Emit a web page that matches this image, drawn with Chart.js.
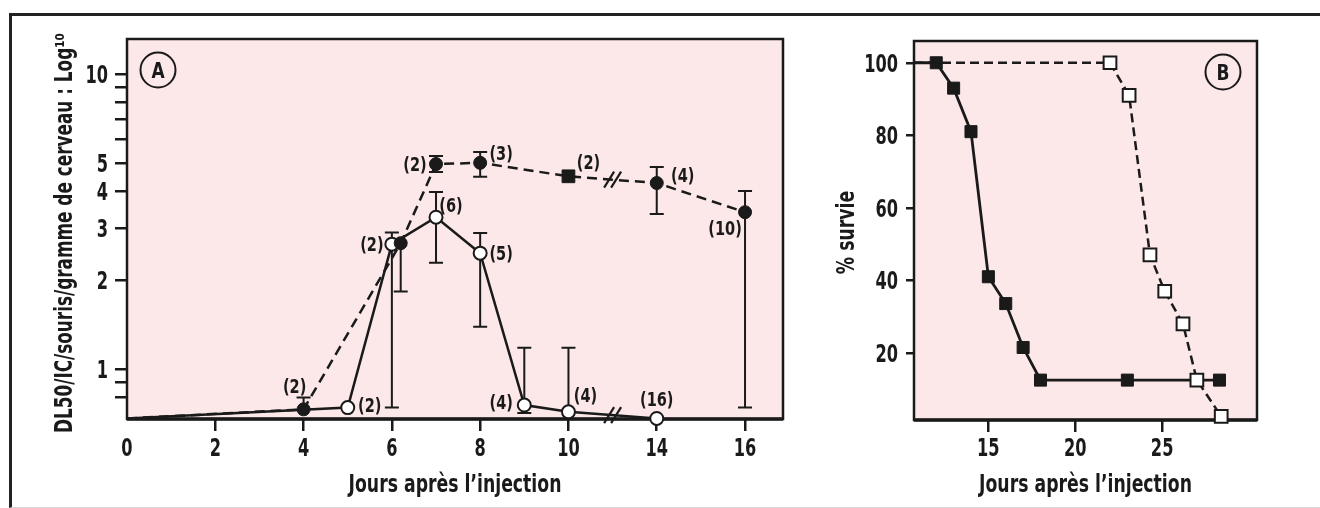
<!DOCTYPE html>
<html lang="fr">
<head>
<meta charset="UTF-8">
<script src="https://cdn.jsdelivr.net/npm/chart.js"></script>
<title>DL50 et survie</title>
<style>
  html, body { margin: 0; padding: 0; background: #fff; }
  #page { position: relative; width: 1320px; height: 508px; overflow: hidden; }
  #frame { position: absolute; left: 9px; top: 13px; width: 1330px; height: 491px;
           border-top: 3px solid #222; border-left: 3px solid #222; border-bottom: 1px solid #d8d8d8; }
  canvas { position: absolute; top: 0; }
  #chartA { left: 0; }
  #chartB { left: 800px; }
</style>
</head>
<body>
<div id="page">
  <div id="frame"></div>
  <canvas id="chartA" width="800" height="508"></canvas>
  <canvas id="chartB" width="520" height="508"></canvas>
</div>
<script>
// --- Panneau A (axe des jours coupé entre 10 et 14) ---
const daysA = [0, 2, 4, 6, 8, 10, 14, 16];
const yTicksA = [0.8, 0.9, 1, 2, 3, 4, 5, 6, 7, 8, 9, 10];
const yLabelsA = [1, 2, 3, 4, 5, 10];

// courbe en tirets, cercles pleins
const dashDays   = [0, 4, 6.2, 7, 8, 10, 14, 16];
const dashValues = [0.68, 0.73, 2.67, 4.95, 5.0, 4.5, 4.27, 3.4];
const dashLow    = [null, null, 1.83, 4.65, 4.48, null, 3.35, 0.74];
const dashHigh   = [null, 0.80, null, 5.27, 5.44, null, 4.84, 4.01];
const dashN      = ['', '(2)', '', '(2)', '(3)', '(2)', '(4)', '(10)'];

// courbe pleine, cercles vides
const solidDays   = [0, 5, 6, 7, 8, 9, 10, 14];
const solidValues = [0.68, 0.74, 2.65, 3.27, 2.47, 0.755, 0.716, 0.68];
const solidLow    = [null, null, 0.74, 2.29, 1.39, 0.71, null, null];
const solidHigh   = [null, null, 2.9, 3.98, 2.89, 1.18, 1.18, null];
const solidN      = ['', '(2)', '(2)', '(6)', '(5)', '(4)', '(4)', '(16)'];

// --- Panneau B : % survie ---
const xTicksB = [15, 20, 25];
const yTicksB = [20, 40, 60, 80, 100];
const filledDays   = [10.72, 12, 13, 14, 15, 16, 17, 18, 23, 28.3];
const filledSurvie = [100, 100, 93, 81, 41, 33.6, 21.5, 12.5, 12.5, 12.5];
const openDays     = [10.72, 22, 23.1, 24.3, 25.15, 26.2, 27, 28.4];
const openSurvie   = [100, 100, 91, 47, 37, 28, 12.5, 2.5];

// placement des effectifs (décalages en pixels)
const dashLabelOffset  = [null, [-9, -23], null, [-21, 0], [21, -10], [20, -14], [26, -8], [-20, 16]];
const solidLabelOffset = [null, [22, -3], [-20, 0], [15, -12], [21, 0], [-23, -3], [17, -17], [0, -19]];

const INK = '#1a1a1a';
const PINK = '#fce8e8';
const FONT = "'DejaVu Sans Condensed', 'DejaVu Sans', sans-serif";

Chart.defaults.font.family = FONT;
Chart.defaults.font.size = 24;
Chart.defaults.font.weight = 'bold';
Chart.defaults.color = INK;

function pos(d) { return d <= 10 ? d : d - 2; }   // axe coupé

// réglages de texte par panneau (hors options Chart.js)
const panelCfg = {
  chartA: {
    letter: 'A', corner: 'left',
    xLabel: (v, i) => String(daysA[i]),
    yLabel: v => yLabelsA.includes(v) ? String(v) : '',
    yLabelRight: 108,
    xTitle: 'Jours après l’injection',
    yTitle: 'DL50/IC/souris/gramme de cerveau : Log¹⁰',
    yTitleX: 72, yTitleLen: 400, yTitleShift: 4
  },
  chartB: {
    letter: 'B', corner: 'right',
    xLabel: v => String(v),
    yLabel: v => String(v),
    yLabelRight: 98,
    xTitle: 'Jours après l’injection',
    yTitle: '% survie',
    yTitleX: 54, yTitleLen: 0, yTitleShift: 2
  }
};

// texte étroit (police condensée resserrée horizontalement)
function txt(ctx, s, x, y, px, sx, align, rot) {
  ctx.save();
  ctx.translate(x, y);
  if (rot) ctx.rotate(rot);
  ctx.scale(sx, 1);
  ctx.font = 'bold ' + px + 'px ' + FONT;
  ctx.textAlign = align || 'center';
  ctx.textBaseline = 'alphabetic';
  ctx.fillStyle = INK;
  ctx.fillText(s, 0, 0);
  ctx.restore();
}

const panel = {
  id: 'panel',
  beforeDraw(chart) {
    const { ctx, chartArea: a } = chart;
    ctx.save();
    ctx.fillStyle = PINK;
    ctx.fillRect(a.left, a.top, a.right - a.left, a.bottom - a.top);
    ctx.restore();
  },
  beforeDatasetsDraw(chart) {
    const { ctx, chartArea: a } = chart;
    ctx.save();
    ctx.strokeStyle = INK;
    ctx.lineWidth = 2.5;
    ctx.strokeRect(a.left, a.top, a.right - a.left, a.bottom - a.top);
    ctx.lineWidth = 3.5;
    ctx.beginPath();
    ctx.moveTo(a.left, a.bottom);
    ctx.lineTo(a.right, a.bottom);
    ctx.stroke();

    // barres d'erreur
    const y = chart.scales.y;
    ctx.lineWidth = 2;
    chart.data.datasets.forEach((ds, i) => {
      if (!ds.errLow) return;
      chart.getDatasetMeta(i).data.forEach((pt, j) => {
        const lo = ds.errLow[j], hi = ds.errHigh[j];
        if (lo == null && hi == null) return;
        const yl = y.getPixelForValue(lo == null ? ds.data[j].y : lo);
        const yh = y.getPixelForValue(hi == null ? ds.data[j].y : hi);
        ctx.beginPath();
        ctx.moveTo(pt.x, yl);
        ctx.lineTo(pt.x, yh);
        if (lo != null) { ctx.moveTo(pt.x - 7, yl); ctx.lineTo(pt.x + 7, yl); }
        if (hi != null) { ctx.moveTo(pt.x - 7, yh); ctx.lineTo(pt.x + 7, yh); }
        ctx.stroke();
      });
    });
    ctx.restore();
  },
  afterDatasetsDraw(chart) {
    const { ctx } = chart;
    chart.data.datasets.forEach((ds, i) => {
      const pts = chart.getDatasetMeta(i).data;
      // marques de coupure //
      if (ds.breakAt != null) {
        const p0 = pts[ds.breakAt], p1 = pts[ds.breakAt + 1];
        const cx = (p0.x + p1.x) / 2, cy = (p0.y + p1.y) / 2;
        ctx.save();
        ctx.strokeStyle = INK;
        ctx.lineWidth = 2.2;
        [-3.5, 3.5].forEach(dx => {
          ctx.beginPath();
          ctx.moveTo(cx + dx - 5, cy + 8);
          ctx.lineTo(cx + dx + 5, cy - 8);
          ctx.stroke();
        });
        ctx.restore();
      }
      // effectifs (n)
      if (ds.nLabels) {
        pts.forEach((pt, j) => {
          const off = ds.labelOffset[j];
          if (!ds.nLabels[j] || !off) return;
          txt(ctx, ds.nLabels[j], pt.x + off[0], pt.y + off[1] + 7, 19, 0.85, 'center');
        });
      }
    });
  },
  afterDraw(chart) {
    const { ctx, chartArea: a, scales } = chart;
    const o = panelCfg[chart.canvas.id];

    // graduations
    scales.x.ticks.forEach((t, i) => {
      txt(ctx, o.xLabel(t.value, i), scales.x.getPixelForValue(t.value), 456, 25, 0.72, 'center');
    });
    scales.y.ticks.forEach((t, i) => {
      const s = o.yLabel(t.value, i);
      if (s) txt(ctx, s, o.yLabelRight, scales.y.getPixelForValue(t.value) + 9, 25, 0.72, 'right');
    });

    // titres des axes
    txt(ctx, o.xTitle, (a.left + a.right) / 2, 492, 24, 0.8, 'center');
    ctx.save();
    ctx.font = 'bold 24px ' + FONT;
    const w = ctx.measureText(o.yTitle).width;
    ctx.restore();
    const sy = o.yTitleLen ? o.yTitleLen / w : 0.8;
    txt(ctx, o.yTitle, o.yTitleX, (a.top + a.bottom) / 2 + o.yTitleShift, 24, sy, 'center', -Math.PI / 2);

    // lettre du panneau
    const cx = o.corner === 'left' ? a.left + 31 : a.right - 34;
    const cy = a.top + 31;
    ctx.save();
    ctx.strokeStyle = INK;
    ctx.lineWidth = 2;
    ctx.beginPath();
    ctx.arc(cx, cy, 17.5, 0, Math.PI * 2);
    ctx.stroke();
    ctx.restore();
    txt(ctx, o.letter, cx, cy + 7.5, 21, 0.9, 'center');
  }
};

function axisGrid(len, hideFirst) {
  return {
    drawOnChartArea: false, drawTicks: true, tickLength: len,
    lineWidth: 2.5, tickWidth: 2.5,
    tickColor: c => (hideFirst && c.index === 0) ? 'rgba(0,0,0,0)' : INK,
    color: INK
  };
}

// ---------- Panneau A ----------
new Chart('chartA', {
  type: 'line',
  data: {
    datasets: [
      {
        data: dashDays.map((d, i) => ({ x: pos(d), y: dashValues[i] })),
        borderColor: INK, borderWidth: 2.5, borderDash: [10, 6],
        pointStyle: dashDays.map(d => d === 10 ? 'rect' : 'circle'),
        pointRadius: dashDays.map((d, i) => i === 0 ? 0 : (d === 10 ? 9 : 6.5)),
        pointBackgroundColor: INK, pointBorderColor: INK, pointBorderWidth: 1,
        errLow: dashLow, errHigh: dashHigh, nLabels: dashN, labelOffset: dashLabelOffset,
        breakAt: dashDays.indexOf(10),
        tension: 0, clip: false
      },
      {
        data: solidDays.map((d, i) => ({ x: pos(d), y: solidValues[i] })),
        borderColor: INK, borderWidth: 2.5,
        pointRadius: solidDays.map((d, i) => i === 0 ? 0 : 6.5),
        pointBackgroundColor: '#fff', pointBorderColor: INK, pointBorderWidth: 2,
        errLow: solidLow, errHigh: solidHigh, nLabels: solidN, labelOffset: solidLabelOffset,
        breakAt: solidDays.indexOf(10),
        tension: 0, clip: false
      }
    ]
  },
  options: {
    responsive: false, animation: false,
    layout: { padding: { top: 39, right: 17, bottom: 0, left: 0 } },
    plugins: { legend: { display: false }, tooltip: { enabled: false } },
    scales: {
      x: {
        type: 'linear', min: 0, max: 14.86,
        afterBuildTicks: s => { s.ticks = daysA.map(d => ({ value: pos(d) })); },
        afterFit: s => { s.height = 89; },
        ticks: { display: false },
        grid: axisGrid(12, true),
        border: { display: false }
      },
      y: {
        type: 'logarithmic', min: 0.677, max: 13.14,
        afterBuildTicks: s => { s.ticks = yTicksA.map(v => ({ value: v })); },
        afterFit: s => { s.width = 127; },
        ticks: { display: false },
        grid: axisGrid(12, false),
        border: { display: false }
      }
    }
  },
  plugins: [panel]
});

// ---------- Panneau B ----------
new Chart('chartB', {
  type: 'line',
  data: {
    datasets: [
      {
        data: openDays.map((d, i) => ({ x: d, y: openSurvie[i] })),
        borderColor: INK, borderWidth: 2.5, borderDash: [9, 5],
        pointStyle: 'rect',
        pointRadius: openDays.map((d, i) => i === 0 ? 0 : 9),
        pointBackgroundColor: '#fff', pointBorderColor: INK, pointBorderWidth: 2,
        tension: 0, clip: false
      },
      {
        data: filledDays.map((d, i) => ({ x: d, y: filledSurvie[i] })),
        borderColor: INK, borderWidth: 2.8,
        pointStyle: 'rect',
        pointRadius: filledDays.map((d, i) => i === 0 ? 0 : 8.5),
        pointBackgroundColor: INK, pointBorderColor: INK, pointBorderWidth: 1,
        tension: 0, clip: false
      }
    ]
  },
  options: {
    responsive: false, animation: false,
    layout: { padding: { top: 41, right: 63, bottom: 0, left: 0 } },
    plugins: { legend: { display: false }, tooltip: { enabled: false } },
    scales: {
      x: {
        type: 'linear', min: 10.72, max: 30.46,
        afterBuildTicks: s => { s.ticks = xTicksB.map(v => ({ value: v })); },
        afterFit: s => { s.height = 88; },
        ticks: { display: false },
        grid: axisGrid(12, false),
        border: { display: false }
      },
      y: {
        type: 'linear', min: 1.5, max: 106,
        afterBuildTicks: s => { s.ticks = yTicksB.map(v => ({ value: v })); },
        afterFit: s => { s.width = 114; },
        ticks: { display: false },
        grid: axisGrid(8, false),
        border: { display: false }
      }
    }
  },
  plugins: [panel]
});
</script>
</body>
</html>
